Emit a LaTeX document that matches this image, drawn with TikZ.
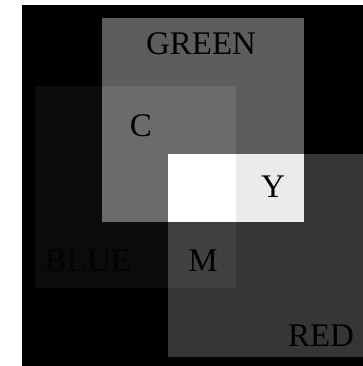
\documentclass[tikz,border=0pt]{standalone}
\usepackage{fontspec}
\setmainfont{Liberation Serif}
\definecolor{gcol}{HTML}{5D5D5D}
\definecolor{bcol}{HTML}{0B0B0B}
\definecolor{rcol}{HTML}{363636}
\definecolor{ccol}{HTML}{6B6B6B}
\definecolor{ycol}{HTML}{EBEBEB}
\definecolor{mcol}{HTML}{404040}
\definecolor{bluetext}{HTML}{030303}
\begin{document}
\begin{tikzpicture}[x=1pt,y=-1pt,
  lab/.style={inner sep=0pt,font=\fontsize{33}{33}\selectfont,text=black}]
\useasboundingbox (0,0) rectangle (363,366);
\fill[white] (0,0) rectangle (363,366);
\begin{scope}
\clip (22,5) rectangle (363,366);
\fill[black] (22,5) rectangle (363,366);
\fill[gcol] (102,18) rectangle (304,222);
\fill[bcol] (35,86) rectangle (236,288);
\fill[rcol] (168,154) rectangle (371,357);
\fill[mcol] (168,154) rectangle (236,288);
\fill[ccol] (102,86) rectangle (236,222);
\fill[ycol] (168,154) rectangle (304,222);
\fill[white] (168,154) rectangle (236,222);
\end{scope}
\node[lab] (green) at (201,44) {GREEN};
\node[lab] (c) at (141,126) {C};
\node[lab] (y) at (273,187) {Y};
\node[lab] (m) at (203,261) {M};
\node[lab,text=bluetext] (blue) at (88,261) {BLUE};
\node[lab] (red) at (321,336) {RED};
\end{tikzpicture}
\end{document}
